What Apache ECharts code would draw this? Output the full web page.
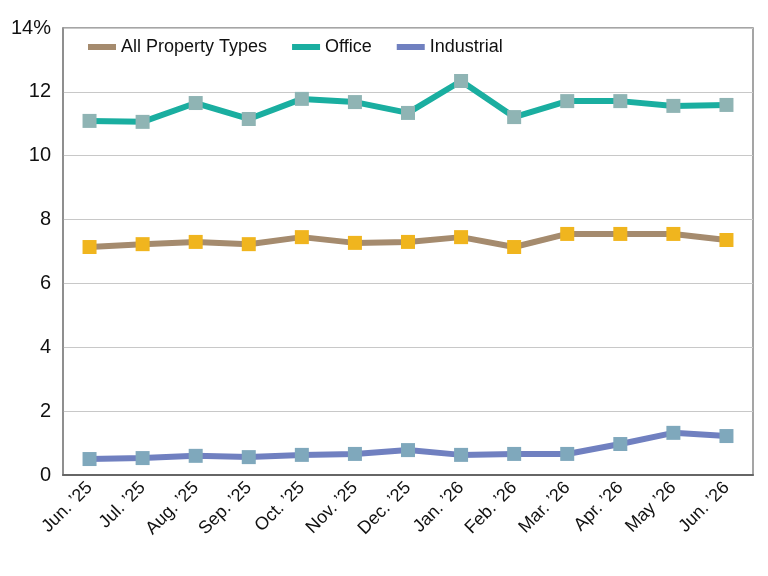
<!DOCTYPE html>
<html>
<head>
<meta charset="utf-8">
<script src="https://cdn.jsdelivr.net/npm/echarts@6/dist/echarts.min.js"></script>
<style>
  html, body { margin: 0; padding: 0; background: #fff; }
  #chart { width: 768px; height: 576px; }
</style>
</head>
<body>
<div id="chart"></div>
<script>
const months = ['Jun. \u201925', 'Jul. \u201925', 'Aug. \u201925', 'Sep. \u201925', 'Oct. \u201925', 'Nov. \u201925',
  'Dec. \u201925', 'Jan. \u201926', 'Feb. \u201926', 'Mar. \u201926', 'Apr. \u201926', 'May \u201926', 'Jun. \u201926'];

const allTypes = [7.14, 7.23, 7.30, 7.23, 7.45, 7.27, 7.30, 7.45, 7.14, 7.55, 7.55, 7.55, 7.36];
const office = [11.09, 11.06, 11.65, 11.15, 11.78, 11.68, 11.34, 12.34, 11.21, 11.71, 11.71, 11.56, 11.59];
const industrial = [0.50, 0.53, 0.60, 0.56, 0.63, 0.66, 0.78, 0.63, 0.66, 0.66, 0.97, 1.32, 1.22];

const FONT = '"Liberation Sans", Arial, sans-serif';

function lineSeries(name, data, lineColor, markerColor) {
  return {
    name,
    type: 'line',
    data,
    symbol: 'rect',
    symbolSize: 14,
    lineStyle: { color: lineColor, width: 6 },
    itemStyle: { color: markerColor },
    emphasis: { disabled: true },
  };
}

const chart = echarts.init(document.getElementById('chart'));
chart.setOption({
  animation: false,
  textStyle: { fontFamily: FONT },
  legend: {
    top: 33,
    left: 83,
    itemGap: 25,
    itemWidth: 28,
    itemHeight: 6,
    icon: 'rect',
    textStyle: { fontSize: 18, color: '#111', fontFamily: FONT },
    data: [
      { name: 'All Property Types', itemStyle: { color: '#a58b6e' } },
      { name: 'Office', itemStyle: { color: '#1aaea0' } },
      { name: 'Industrial', itemStyle: { color: '#7080c0' } },
    ],
  },
  grid: {
    left: 63,
    right: 15,
    top: 28,
    bottom: 101,
    show: true,
    borderColor: '#888',
    borderWidth: 1.5,
  },
  xAxis: {
    type: 'category',
    data: months,
    boundaryGap: true,
    axisLine: { lineStyle: { color: '#666', width: 2 } },
    axisTick: { inside: true, length: 11, lineStyle: { color: '#333', width: 1 } },
    axisLabel: {
      rotate: 45,
      fontSize: 18,
      color: '#111',
      margin: 10,
      interval: 0,
    },
  },
  yAxis: {
    type: 'value',
    min: 0,
    max: 14,
    interval: 2,
    axisLine: { show: true, lineStyle: { color: '#888', width: 1.5 } },
    axisTick: { show: false },
    axisLabel: {
      fontSize: 20,
      color: '#111',
      margin: 12,
      formatter: (v) => (v === 14 ? '14%' : String(v)),
    },
    splitLine: { lineStyle: { color: '#c8c8c8', width: 1 } },
  },
  series: [
    lineSeries('All Property Types', allTypes, '#a58b6e', '#f0b51e'),
    lineSeries('Office', office, '#1aaea0', '#8fb4b4'),
    lineSeries('Industrial', industrial, '#7080c0', '#7fa8bc'),
  ],
});
</script>
</body>
</html>
